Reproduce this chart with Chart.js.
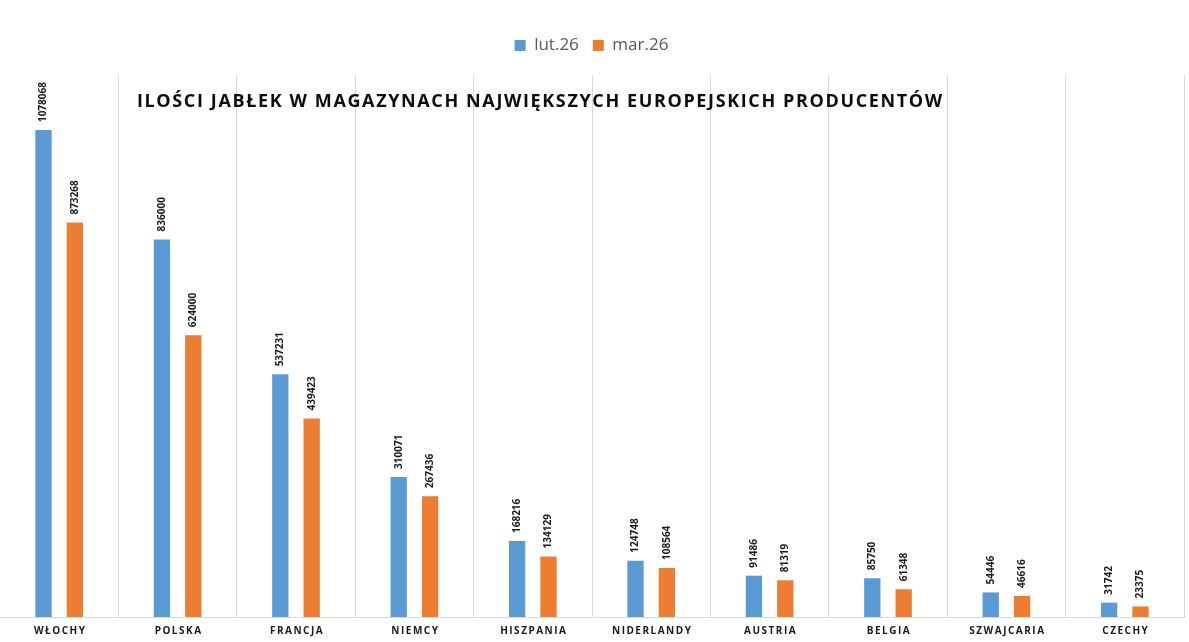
<!DOCTYPE html>
<html>
<head>
<meta charset="utf-8">
<script src="https://cdn.jsdelivr.net/npm/chart.js@4.4.1/dist/chart.umd.min.js"></script>
<style>
  html,body{margin:0;padding:0;background:#fff;}
  #wrap{width:1189px;height:642px;position:relative;}
</style>
</head>
<body>
<div id="wrap"><canvas id="chart"></canvas></div>
<script>
// data
const countries = ['WŁOCHY','POLSKA','FRANCJA','NIEMCY','HISZPANIA','NIDERLANDY','AUSTRIA','BELGIA','SZWAJCARIA','CZECHY'];
const lut26 = [1078068, 836000, 537231, 310071, 168216, 124748, 91486, 85750, 54446, 31742];
const mar26 = [873268, 624000, 439423, 267436, 134129, 108564, 81319, 61348, 46616, 23375];
const seriesNames = ['lut.26', 'mar.26'];
const chartTitle = 'ILOŚCI JABŁEK W MAGAZYNACH NAJWIĘKSZYCH EUROPEJSKICH PRODUCENTÓW';
const yMax = 1200000;

// extra room under the legend
const legendGap = {
  id:'legendGap',
  beforeInit(chart){
    const fit = chart.legend.fit;
    chart.legend.fit = function(){ fit.bind(chart.legend)(); this.height += 11; };
  }
};

// vertical value labels above bars + title + category labels (letter-spaced)
const extras = {
  id:'extras',
  afterDatasetsDraw(chart){
    const ctx = chart.ctx;
    ctx.save();
    ctx.fillStyle = '#1a1a1a';
    ctx.font = 'bold 10px "Open Sans", sans-serif';
    ctx.textAlign = 'left';
    ctx.textBaseline = 'middle';
    chart.data.datasets.forEach((ds, i)=>{
      chart.getDatasetMeta(i).data.forEach((bar, j)=>{
        ctx.save();
        ctx.translate(bar.x, bar.y - 8);
        ctx.rotate(-Math.PI/2);
        ctx.fillText(String(ds.data[j]), 0, 0);
        ctx.restore();
      });
    });
    ctx.restore();
  },
  afterDraw(chart){
    const ctx = chart.ctx;
    const xs = chart.scales.x;
    ctx.save();
    // title drawn over plot area
    ctx.fillStyle = '#0d0d0d';
    ctx.font = 'bold 18px "Open Sans", sans-serif';
    ctx.letterSpacing = '1.62px';
    ctx.textAlign = 'left';
    ctx.textBaseline = 'middle';
    ctx.fillText(chartTitle, 137, 102);
    // category labels
    ctx.font = 'bold 10px "Open Sans", sans-serif';
    ctx.letterSpacing = '1.5px';
    ctx.textAlign = 'center';
    ctx.fillStyle = '#1a1a1a';
    countries.forEach((c, i)=>{
      ctx.fillText(c, xs.getPixelForValue(i) + 1, chart.chartArea.bottom + 14);
    });
    ctx.restore();
  }
};

new Chart(document.getElementById('chart'), {
  type:'bar',
  data:{
    labels: countries,
    datasets:[
      {label: seriesNames[0], data: lut26, backgroundColor:'#5B9BD5', barPercentage:0.52, categoryPercentage:0.53},
      {label: seriesNames[1], data: mar26, backgroundColor:'#ED7D31', barPercentage:0.52, categoryPercentage:0.53}
    ]
  },
  options:{
    responsive:true,
    maintainAspectRatio:false,
    animation:false,
    layout:{padding:{left:-1, right:5, top:23, bottom:25}},
    plugins:{
      legend:{
        position:'top',
        labels:{boxWidth:11, boxHeight:11, color:'#595959', font:{size:17, family:'"Open Sans", sans-serif'}, padding:14}
      },
      title:{display:false},
      tooltip:{enabled:false}
    },
    scales:{
      x:{
        grid:{display:true, offset:true, drawTicks:false,
          color:(c)=> c.index === 0 ? 'rgba(0,0,0,0)' : '#d9d9d9'},
        border:{display:true, color:'#d9d9d9'},
        ticks:{display:false}
      },
      y:{
        display:true,
        min:0, max:yMax,
        ticks:{display:false},
        grid:{display:false, drawTicks:false},
        border:{display:false}
      }
    }
  },
  plugins:[legendGap, extras]
});
</script>
</body>
</html>
